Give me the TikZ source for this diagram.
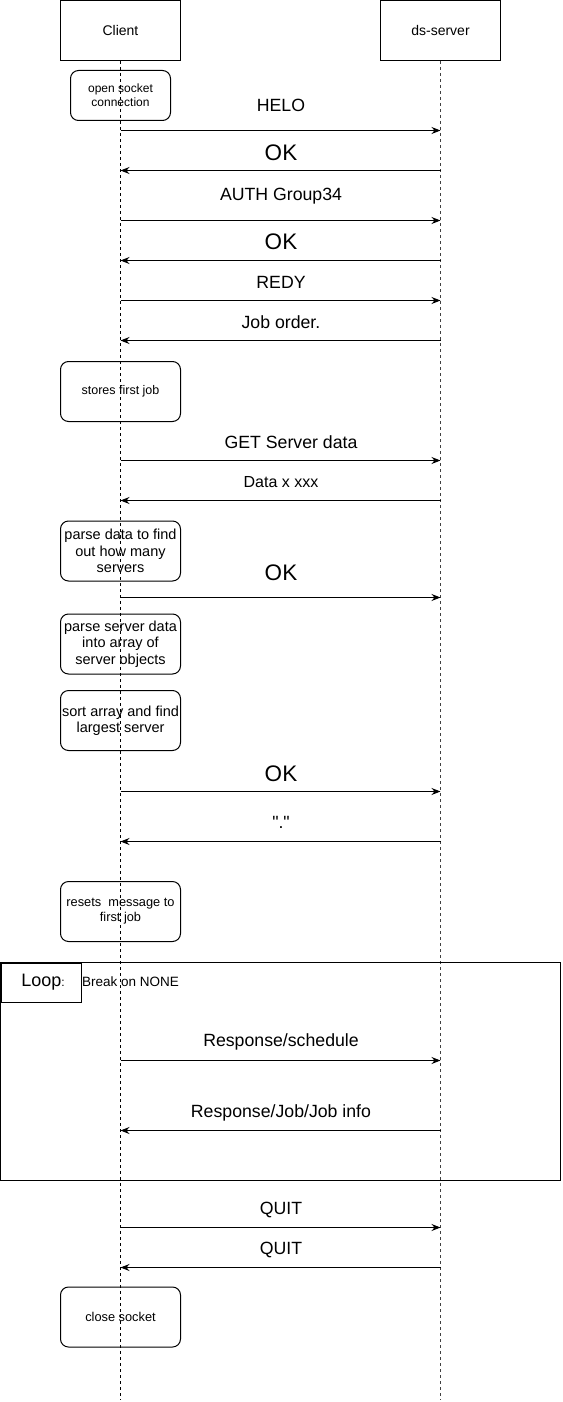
\documentclass[tikz,border=0pt]{standalone}
\usepackage{fontspec}
\setmainfont{Liberation Sans}
\usetikzlibrary{arrows.meta}
\newcommand\fsz[2]{\fontsize{#1}{#2}\selectfont}
\begin{document}
\begin{tikzpicture}[x=1pt,y=-1pt,
 actor/.style={draw,line width=1pt,minimum width=120pt,minimum height=60pt,inner sep=0pt,font=\fsz{14}{16}},
 note/.style={draw,line width=1pt,rounded corners=8pt,inner sep=0pt,align=center,minimum width=120pt,minimum height=60pt},
 life/.style={line width=1pt,dash pattern=on 3pt off 3pt},
 msg/.style={line width=1pt,-{Stealth[length=9pt,width=7pt,inset=3pt]}},
 lbl/.style={font=\fsz{17.7}{20},inner sep=0pt},
 big/.style={font=\fsz{22.5}{26},inner sep=0pt}]
\useasboundingbox (0,0) rectangle (562,1402);
% actors
\node[actor] (client) at (120.5,30.5) {Client};
\node[actor] (server) at (440.5,30.5) {ds-server};
% notes
\node[note,minimum width=100pt,minimum height=50pt,font=\fsz{12}{14}] (n1) at (120.5,95.5) {open socket\\connection};
\node[note,font=\fsz{12.5}{15}] (n2) at (120.5,391.5) {stores first job};
\node[note,font=\fsz{14.5}{16.5}] (n3) at (120.5,551) {parse data to find\\out how many\\servers};
\node[note,font=\fsz{14.5}{16.5}] (n4) at (120.5,644) {parse server data\\into array of\\server objects};
\node[note,font=\fsz{14.5}{16.5}] (n5) at (120.5,720.5) {sort array and find\\largest server};
\node[note,font=\fsz{12.8}{15}] (n6) at (120.5,911.5) {resets\ \ message to\\first job};
\node[note,font=\fsz{12.8}{15}] (n7) at (120.5,1317) {close socket};
% lifelines
\coordinate (cend) at (120.5,1400);
\coordinate (send) at (440.5,1400);
\draw[life] (client.south) -- (cend);
\draw[life,black!75] (server.south) -- (send);
% loop frame
\draw[line width=1pt] (0.5,962.5) rectangle (560.5,1180.5);
\node[draw,line width=1pt,minimum width=80pt,minimum height=39pt,inner sep=0pt,anchor=north west] (looptab) at (0.5,962.5) {\hspace{4pt}\fsz{18}{20}Loop\fsz{12}{14}:};
\node[anchor=west,inner sep=0pt,font=\fsz{13.5}{16}] (loopcond) at (82,982) {Break on NONE};
% messages
\foreach \n/\y in {1/130.5,2/170.5,3/220.5,4/260.5,5/300.5,6/340.5,7/460.5,8/500.5,9/597.5,10/791.5,11/841.5,12/1060.5,13/1130.5,14/1227.5,15/1267.5}{
  \coordinate (c\n) at (120.5,\y);
  \coordinate (s\n) at (440.5,\y);
}
\draw[msg] (c1) -- (s1);
\draw[msg] (s2) -- (c2);
\draw[msg] (c3) -- (s3);
\draw[msg] (s4) -- (c4);
\draw[msg] (c5) -- (s5);
\draw[msg] (s6) -- (c6);
\draw[msg] (c7) -- (s7);
\draw[msg] (s8) -- (c8);
\draw[msg] (c9) -- (s9);
\draw[msg] (c10) -- (s10);
\draw[msg] (s11) -- (c11);
\draw[msg] (c12) -- (s12);
\draw[msg] (s13) -- (c13);
\draw[msg] (c14) -- (s14);
\draw[msg] (s15) -- (c15);
% labels
\node[lbl] (l1) at (281,105.5) {HELO};
\node[big] (l2) at (281,152.5) {OK};
\node[lbl] (l3) at (281,196.5) {AUTH Group34};
\node[big] (l4) at (281,242) {OK};
\node[lbl] (l5) at (281,282) {REDY};
\node[lbl] (l6) at (281,322.5) {Job order.};
\node[lbl] (l7) at (291,442) {GET Server data};
\node[lbl,font=\fsz{16}{19}] (l8) at (281,482.5) {Data x xxx};
\node[big] (l9) at (281,572.5) {OK};
\node[big] (l10) at (281,773.5) {OK};
\node[lbl] (l11) at (281,822.5) {\textquotedbl.\textquotedbl};
\node[lbl] (l12) at (281,1042) {Response/schedule};
\node[lbl] (l13) at (281,1112.5) {Response/Job/Job info};
\node[lbl] (l14) at (281,1210) {QUIT};
\node[lbl] (l15) at (281,1249.5) {QUIT};
\end{tikzpicture}
\end{document}
